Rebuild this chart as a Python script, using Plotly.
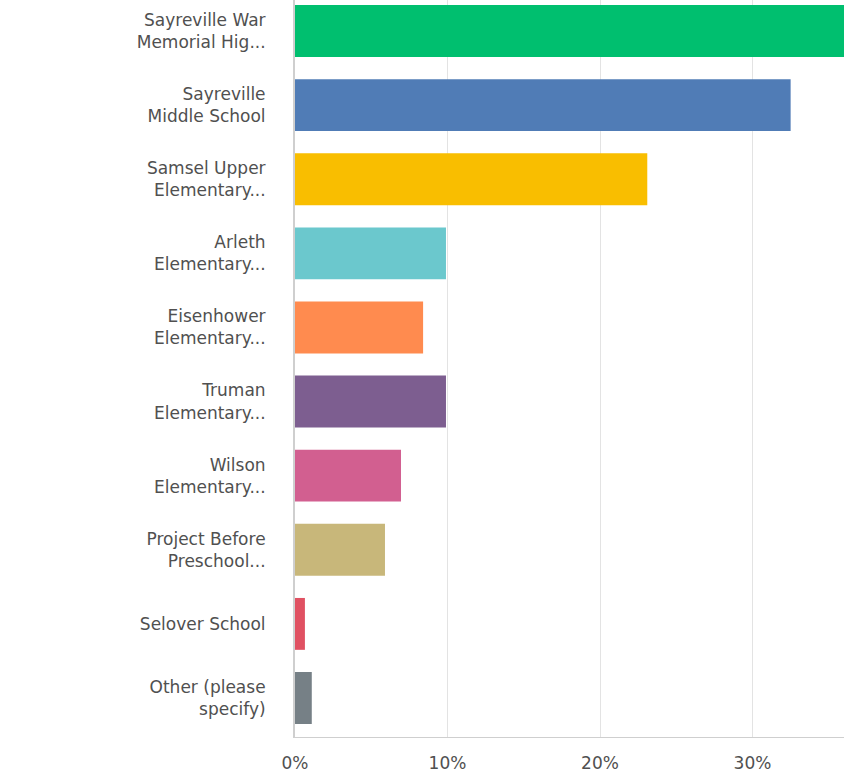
import plotly.graph_objects as go

categories = [
    "Sayreville War<br>Memorial Hig...",
    "Sayreville<br>Middle School",
    "Samsel Upper<br>Elementary...",
    "Arleth<br>Elementary...",
    "Eisenhower<br>Elementary...",
    "Truman<br>Elementary...",
    "Wilson<br>Elementary...",
    "Project Before<br>Preschool...",
    "Selover School",
    "Other (please<br>specify)",
]
values = [37.5, 32.5, 23.1, 9.9, 8.4, 9.9, 6.95, 5.9, 0.65, 1.1]
colors = ["#00bf6f", "#507cb6", "#f9be00", "#6bc8cd", "#ff8b4f",
          "#7d5e90", "#d25f90", "#c8b77a", "#e05162", "#768086"]
tick_vals = [0, 10, 20, 30]
tick_text = ["0%", "10%", "20%", "30%"]

fig = go.Figure(go.Bar(
    x=values, y=categories, orientation="h",
    marker=dict(color=colors, line=dict(width=0)),
    hoverinfo="skip",
))

fig.update_layout(
    width=844, height=773,
    margin=dict(l=295, r=0, t=0, b=36, autoexpand=False),
    paper_bgcolor="white", plot_bgcolor="white",
    bargap=0.3, showlegend=False,
    font=dict(family="DejaVu Sans", size=17, color="#505050"),
)
fig.update_xaxes(
    range=[0, 36], tickvals=tick_vals, ticktext=tick_text, automargin=False,
    showgrid=True, gridcolor="#e3e3e3", gridwidth=1,
    zeroline=False, showline=True, linecolor="#cfcfcf", linewidth=1,
    ticks="", ticklabelstandoff=11, tickfont=dict(size=17, color="#505050"),
)
fig.update_yaxes(
    type="category", range=[9.526, -0.418], automargin=False,
    showgrid=False, zeroline=False, showline=True, linecolor="#cfcfcf", linewidth=2,
    ticks="", ticklabelstandoff=24, tickfont=dict(size=17, color="#505050"),
)

fig.write_html(
    "out.html",
    config={"displayModeBar": False, "staticPlot": True},
    post_script="document.body.style.margin='0';document.body.style.overflow='hidden';",
)
